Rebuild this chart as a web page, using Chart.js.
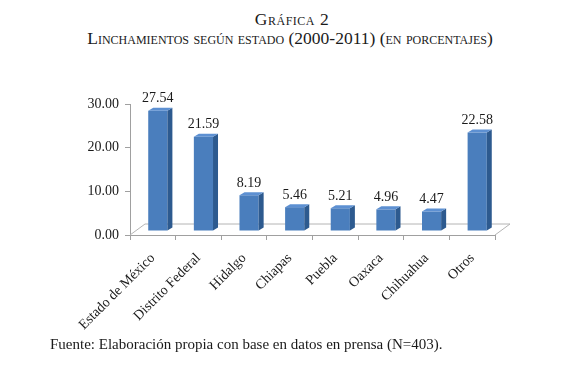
<!DOCTYPE html>
<html>
<head>
<meta charset="utf-8">
<script src="https://cdn.jsdelivr.net/npm/chart.js@4"></script>
<style>
  body { margin: 0; background: #fff; }
  #page { position: relative; width: 580px; height: 371px; overflow: hidden; background: #fff;
          font-family: "Liberation Serif", "DejaVu Serif", serif; color: #1a1a1a; }
  .title { position: absolute; left: 0; width: 580px; text-align: center; font-variant: small-caps; font-size: 17.5px; }
  #t1 { top: 9px; left: 2px; letter-spacing: 0.5px; }
  #t2 { top: 28px; left: 0px; }
  #wrap { position: absolute; left: 0; top: 60px; width: 580px; height: 280px; }
  #foot { position: absolute; left: 50px; top: 336px; font-size: 15px; }
</style>
</head>
<body>
<div id="page">
  <div class="title" id="t1">Gráfica 2</div>
  <div class="title" id="t2">Linchamientos según estado (2000-2011) (en porcentajes)</div>
  <div id="wrap"><canvas id="chart" width="580" height="280"></canvas></div>
  <div id="foot">Fuente: Elaboración propia con base en datos en prensa (N=403).</div>
</div>
<script>
var estados = ['Estado de México', 'Distrito Federal', 'Hidalgo', 'Chiapas', 'Puebla', 'Oaxaca', 'Chihuahua', 'Otros'];
var porcentajes = [27.54, 21.59, 8.19, 5.46, 5.21, 4.96, 4.47, 22.58];
var yTicks = [0, 10, 20, 30];

// desplazamiento del "piso" y profundidad de las barras (efecto 3D)
var FLOOR_DX = 15, FLOOR_DY = 11;
var SHIFT_X = 5, SHIFT_Y = 4;
var BAR_DX = 5, BAR_DY = 3;
var fuente = 'Liberation Serif';

var efecto3d = {
    id: 'efecto3d',
    beforeDatasetsDraw: function (chart) {
        var ctx = chart.ctx, a = chart.chartArea;
        ctx.save();
        ctx.strokeStyle = '#b4b4b4';
        ctx.lineWidth = 1;
        ctx.beginPath();
        ctx.moveTo(a.left, a.bottom);
        ctx.lineTo(a.left + FLOOR_DX, a.bottom - FLOOR_DY);
        ctx.lineTo(a.right + FLOOR_DX, a.bottom - FLOOR_DY);
        ctx.lineTo(a.right, a.bottom);
        ctx.stroke();
        ctx.restore();
        ctx.save();
        ctx.translate(SHIFT_X, -SHIFT_Y);
    },
    afterDatasetsDraw: function (chart) {
        var ctx = chart.ctx;
        var meta = chart.getDatasetMeta(0);
        meta.data.forEach(function (bar) {
            var l = bar.x - bar.width / 2, r = bar.x + bar.width / 2;
            // cara lateral
            ctx.fillStyle = '#2d5a8f';
            ctx.beginPath();
            ctx.moveTo(r, bar.y);
            ctx.lineTo(r + BAR_DX, bar.y - BAR_DY);
            ctx.lineTo(r + BAR_DX, bar.base - BAR_DY);
            ctx.lineTo(r, bar.base);
            ctx.closePath();
            ctx.fill();
            // cara superior
            ctx.fillStyle = '#5d90d2';
            ctx.beginPath();
            ctx.moveTo(l, bar.y);
            ctx.lineTo(l + BAR_DX, bar.y - BAR_DY);
            ctx.lineTo(r + BAR_DX, bar.y - BAR_DY);
            ctx.lineTo(r, bar.y);
            ctx.closePath();
            ctx.fill();
        });
        ctx.restore();

        // etiquetas de valores
        ctx.save();
        ctx.fillStyle = '#1a1a1a';
        ctx.font = '14px "' + fuente + '"';
        ctx.textAlign = 'center';
        ctx.textBaseline = 'middle';
        meta.data.forEach(function (bar, i) {
            ctx.fillText(porcentajes[i].toFixed(2), bar.x + SHIFT_X, bar.y - SHIFT_Y - 12);
        });
        ctx.restore();
    }
};

var ctx = document.getElementById('chart').getContext('2d');
new Chart(ctx, {
    type: 'bar',
    data: {
        labels: estados,
        datasets: [{ data: porcentajes, backgroundColor: '#4a7ebd', borderWidth: 0,
                     barPercentage: 0.42, categoryPercentage: 1 }]
    },
    options: {
        responsive: false,
        animation: false,
        layout: { padding: { left: 0, right: 85, top: 44, bottom: 0 } },
        plugins: { legend: { display: false }, tooltip: { enabled: false }, title: { display: false } },
        scales: {
            x: {
                grid: { offset: true, drawOnChartArea: false, tickLength: 5, color: '#a0a0a0' },
                border: { color: '#a0a0a0' },
                ticks: { minRotation: 45, maxRotation: 45, padding: 10, color: '#1a1a1a',
                         font: { family: fuente, size: 14 } },
                afterFit: function (s) { s.height = 105; }
            },
            y: {
                min: 0, max: 30,
                afterBuildTicks: function (s) { s.ticks = yTicks.map(function (v) { return { value: v }; }); },
                grid: { drawOnChartArea: false, tickLength: 5, color: '#a0a0a0' },
                border: { color: '#a0a0a0' },
                ticks: { padding: 6, color: '#1a1a1a', font: { family: fuente, size: 14 },
                         callback: function (v) { return Number(v).toFixed(2); } },
                afterFit: function (s) { s.width = 130; }
            }
        }
    },
    plugins: [efecto3d]
});
</script>
</body>
</html>
